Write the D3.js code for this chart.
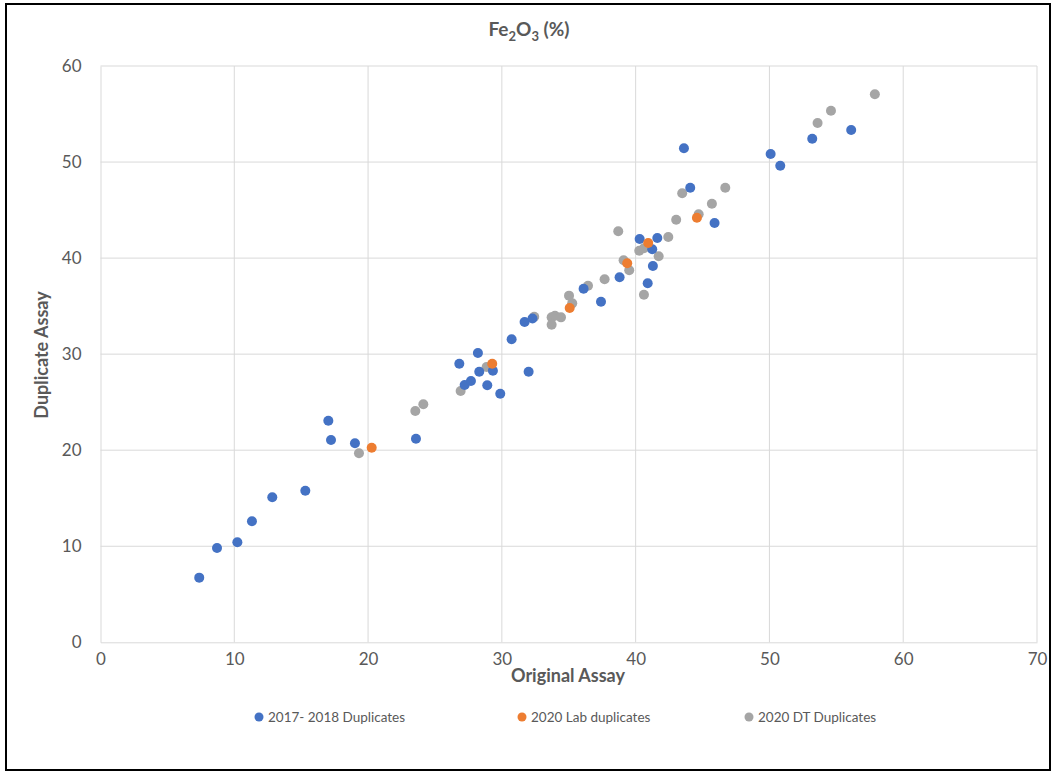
<!DOCTYPE html>
<html><head><meta charset="utf-8">
<script src="https://cdn.jsdelivr.net/npm/d3@7"></script>
<style>body{margin:0;background:#fff;}svg text{font-family:Lato,"Open Sans",sans-serif;}</style>
</head><body><svg id="c" width="1057" height="774"></svg>
<script>
const seriesNames = ["2017- 2018 Duplicates","2020 Lab duplicates","2020 DT Duplicates"];
const seriesColors = ["#4472C4","#ED7D31","#A5A5A5"];
const xTicks = [0,10,20,30,40,50,60,70];
const yTicks = [0,10,20,30,40,50,60];
const blueX = [7.38,8.71,10.23,11.32,12.84,15.31,17.03,17.23,19.02,23.58,27.22,27.69,26.82,28.21,28.31,29.33,28.91,29.88,32.0,30.73,31.7,32.29,37.41,36.11,38.8,40.3,41.62,41.24,41.29,40.9,43.61,44.08,45.9,50.09,50.81,53.2,56.11];
const blueY = [6.73,9.82,10.41,12.6,15.1,15.78,23.07,21.06,20.72,21.2,26.79,27.2,29.0,30.12,28.17,28.28,26.76,25.88,28.17,31.55,33.35,33.71,35.46,36.81,38.0,41.99,42.09,40.92,39.18,37.38,51.43,47.33,43.65,50.84,49.62,52.43,53.34];
const orangeX = [20.27,29.28,35.07,39.37,40.94,44.58];
const orangeY = [20.26,29.0,34.8,39.46,41.57,44.21];
const grayX = [19.32,23.53,24.13,26.92,28.86,32.42,33.72,33.97,34.42,33.72,35.26,35.02,36.44,37.68,38.7,39.1,39.52,40.27,40.62,41.72,40.62,42.44,43.03,43.48,44.71,45.7,46.7,53.6,54.6,57.88];
const grayY = [19.68,24.08,24.78,26.16,28.66,33.9,33.83,34.0,33.83,33.07,35.29,36.09,37.13,37.79,42.79,39.77,38.73,40.77,41.02,40.19,36.19,42.2,44.0,46.75,44.56,45.66,47.33,54.07,55.35,57.05];

const svg = d3.select("#c");
const grey = "#595959";
svg.append("rect").attr("x",6).attr("y",4).attr("width",1044).attr("height",766)
  .attr("fill","#fff").attr("stroke","#000").attr("stroke-width",2);

const x = d3.scaleLinear().domain([0,70]).range([100.5,1037]);
const y = d3.scaleLinear().domain([0,60]).range([642.3,66]);

svg.append("g").selectAll("line").data(xTicks.slice(1)).join("line")
  .attr("x1",d=>x(d)).attr("x2",d=>x(d)).attr("y1",y(60)).attr("y2",y(0))
  .attr("stroke","#D9D9D9").attr("stroke-width",1);
svg.append("g").selectAll("line").data(yTicks.slice(1)).join("line")
  .attr("x1",x(0)).attr("x2",x(70)).attr("y1",d=>y(d)).attr("y2",d=>y(d))
  .attr("stroke","#D9D9D9").attr("stroke-width",1);

const xAxis = svg.append("g").attr("transform",`translate(0,${y(0)})`)
  .call(d3.axisBottom(x).tickValues(xTicks).tickSize(0).tickPadding(11));
const yAxis = svg.append("g").attr("transform",`translate(${x(0)},0)`)
  .call(d3.axisLeft(y).tickValues(yTicks).tickSize(0).tickPadding(19));
[xAxis,yAxis].forEach(a=>{
  a.selectAll("text").attr("fill",grey).style("font-size","17px").style("font-family","Lato,'Open Sans',sans-serif");
});
xAxis.select(".domain").attr("stroke","#D9D9D9");
yAxis.select(".domain").attr("stroke","#D9D9D9");

const sets = [[blueX,blueY],[orangeX,orangeY],[grayX,grayY]];
[2,0,1].forEach(i=>{
  const [xs,ys]=sets[i];
  svg.append("g").selectAll("circle").data(xs.map((v,k)=>[v,ys[k]])).join("circle")
    .attr("cx",d=>x(d[0])).attr("cy",d=>y(d[1])).attr("r",5)
    .attr("fill",seriesColors[i]);
});

const t = svg.append("text").attr("x",529).attr("y",36).attr("text-anchor","middle")
  .attr("fill",grey).style("font-size","19px").style("font-weight","bold");
t.append("tspan").text("Fe");
t.append("tspan").text("2").attr("dy",5).style("font-size","13px");
t.append("tspan").text("O").attr("dy",-5);
t.append("tspan").text("3").attr("dy",5).style("font-size","13px");
t.append("tspan").text(" (%)").attr("dy",-5);

svg.append("text").attr("x",568).attr("y",682).attr("text-anchor","middle")
  .attr("fill",grey).style("font-size","18px").style("font-weight","bold").text("Original Assay");
svg.append("text").attr("transform","translate(48,355) rotate(-90)").attr("text-anchor","middle")
  .attr("fill",grey).style("font-size","18px").style("font-weight","bold").text("Duplicate Assay");

const legX = [259,522,749];
seriesNames.forEach((n,i)=>{
  svg.append("circle").attr("cx",legX[i]).attr("cy",717).attr("r",4.5).attr("fill",seriesColors[i]);
  svg.append("text").attr("x",legX[i]+9).attr("y",722).attr("fill",grey)
    .style("font-size","13.5px").text(n);
});
</script></body></html>
